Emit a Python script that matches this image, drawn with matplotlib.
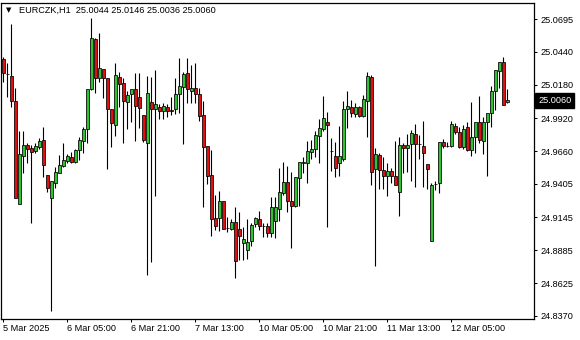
import matplotlib
matplotlib.use("Agg")
import matplotlib.pyplot as plt
from matplotlib.transforms import blended_transform_factory

plt.rcParams['font.family'] = ['Liberation Sans', 'DejaVu Sans']

symbol = "EURCZK,H1"

opens = [25.0384, 25.0262, 25.0250, 25.0055, 24.9247, 24.9624, 24.9710, 24.9686, 24.9663, 24.9694,
         24.9749, 24.9475, 24.9294, 24.9412, 24.9490, 24.9545, 24.9584, 24.9616, 24.9577, 24.9671,
         24.9741, 24.9835, 25.0149, 25.0540, 25.0235, 25.0305, 25.0235, 24.9992, 24.9867, 25.0243,
         25.0196, 25.0047, 25.0109, 25.0149, 25.0086, 24.9945, 24.9726, 25.0047, 24.9992, 25.0008,
         24.9976, 25.0008, 24.9984, 24.9992, 25.0109, 25.0164, 25.0274, 25.0133, 25.0156, 25.0109,
         24.9945, 24.9702, 24.9475, 24.9138, 24.9138, 24.9271, 24.9060, 24.9052, 24.9106, 24.9052,
         24.8942, 24.8887, 24.8958, 24.9091, 24.9130, 24.9075, 24.9075, 24.9020, 24.9114, 24.9208,
         24.9334, 24.9420, 24.9271, 24.9232, 24.9451, 24.9569, 24.9569, 24.9655, 24.9679, 24.9780,
         24.9835, 24.9890, 24.9663, 24.9624, 24.9569, 24.9600, 24.9992, 25.0008, 24.9953, 25.0008,
         24.9937, 25.0055, 25.0243, 24.9522, 24.9632, 24.9514, 24.9467, 24.9506, 24.9467, 24.9341,
         24.9710, 24.9686, 24.9718, 24.9796, 24.9718, 24.9702, 24.9561, 24.8958, 24.9404, 24.9412,
         24.9733, 24.9702, 24.9702, 24.9859, 24.9812, 24.9694, 24.9851, 24.9671, 24.9772, 24.9890,
         24.9741, 24.9890, 24.9961, 25.0133, 25.0290, 25.0360, 25.0044]
highs = [25.0399, 25.0352, 25.0658, 25.0156, 24.9820, 24.9820, 24.9726, 24.9710, 24.9726, 24.9765,
         24.9851, 24.9475, 24.9428, 24.9537, 24.9632, 24.9726, 24.9639, 24.9655, 24.9679, 24.9772,
         24.9851, 25.0149, 25.0705, 25.0548, 25.0587, 25.0305, 25.0235, 24.9992, 25.0352, 25.0282,
         25.0235, 25.0133, 25.0149, 25.0274, 25.0274, 24.9945, 25.0250, 25.0243, 25.0298, 25.0031,
         25.0039, 25.0031, 25.0086, 25.0235, 25.0391, 25.0282, 25.0391, 25.0337, 25.0352, 25.0156,
         25.0055, 24.9702, 24.9671, 24.9318, 24.9349, 24.9271, 24.9146, 24.9130, 24.9224, 24.9185,
         24.9067, 24.9130, 24.9099, 24.9146, 24.9192, 24.9099, 24.9099, 24.9302, 24.9302, 24.9530,
         24.9577, 24.9545, 24.9498, 24.9459, 24.9577, 24.9616, 24.9741, 24.9749, 24.9820, 24.9914,
         25.0094, 24.9968, 24.9765, 24.9733, 24.9859, 25.0055, 25.0133, 25.0062, 25.0039, 25.0015,
         25.0102, 25.0282, 25.0258, 24.9686, 24.9647, 24.9616, 24.9569, 24.9530, 24.9741, 24.9772,
         24.9726, 24.9796, 24.9827, 24.9874, 24.9788, 24.9898, 24.9561, 24.9412, 24.9428, 24.9733,
         24.9757, 24.9733, 24.9898, 24.9882, 24.9851, 24.9867, 24.9890, 25.0047, 24.9890, 25.0094,
         24.9930, 24.9961, 25.0172, 25.0298, 25.0360, 25.0399, 25.0146]
lows = [25.0203, 25.0086, 25.0008, 24.9294, 24.9247, 24.9490, 24.9569, 24.9099, 24.9647, 24.9679,
        24.9459, 24.9341, 24.8409, 24.9373, 24.9490, 24.9537, 24.9569, 24.9569, 24.9569, 24.9592,
        24.9647, 24.9726, 25.0141, 25.0117, 25.0203, 25.0078, 24.9522, 24.9694, 24.9780, 25.0008,
        24.9726, 24.9835, 24.9890, 24.9741, 24.9843, 24.9733, 24.8691, 24.8793, 24.9310, 24.9914,
        24.9914, 24.9930, 24.9945, 24.9953, 24.9961, 24.9718, 25.0039, 25.0039, 25.0039, 24.9898,
        24.9224, 24.9404, 24.8997, 24.9044, 24.9036, 24.9052, 24.9028, 24.9044, 24.8668, 24.8809,
        24.8809, 24.8817, 24.8918, 24.9067, 24.9044, 24.8989, 24.8989, 24.8989, 24.8981, 24.9114,
        24.9318, 24.9185, 24.8903, 24.9224, 24.9232, 24.9490, 24.9412, 24.9600, 24.9616, 24.9569,
        24.9820, 24.9067, 24.9506, 24.9459, 24.9467, 24.9584, 24.9843, 24.9930, 24.9930, 24.9930,
        24.9930, 24.9772, 24.9396, 24.8762, 24.9365, 24.9365, 24.9310, 24.9412, 24.9396, 24.9153,
        24.9490, 24.9498, 24.9428, 24.9381, 24.9600, 24.9381, 24.9365, 24.8958, 24.9357, 24.9334,
        24.9686, 24.9694, 24.9694, 24.9796, 24.9686, 24.9679, 24.9663, 24.9624, 24.9647, 24.9726,
        24.9639, 24.9467, 24.9851, 24.9984, 25.0156, 25.0023, 25.0036]
closes = [25.0274, 25.0262, 25.0055, 24.9294, 24.9639, 24.9710, 24.9679, 24.9655, 24.9702, 24.9741,
          24.9553, 24.9373, 24.9428, 24.9498, 24.9553, 24.9592, 24.9624, 24.9577, 24.9671, 24.9749,
          24.9835, 25.0149, 25.0548, 25.0235, 25.0313, 25.0235, 24.9992, 24.9882, 25.0258, 25.0188,
          25.0055, 25.0102, 25.0149, 25.0015, 25.0000, 24.9749, 25.0117, 24.9992, 25.0031, 24.9976,
          25.0015, 24.9976, 24.9976, 25.0109, 25.0172, 25.0266, 25.0149, 25.0156, 25.0109, 24.9937,
          24.9694, 24.9467, 24.9130, 24.9075, 24.9271, 24.9052, 24.9060, 24.9106, 24.8801, 24.8997,
          24.8973, 24.8950, 24.9083, 24.9138, 24.9075, 24.9075, 24.9020, 24.9224, 24.9224, 24.9341,
          24.9420, 24.9271, 24.9232, 24.9459, 24.9577, 24.9577, 24.9663, 24.9679, 24.9788, 24.9843,
          24.9922, 24.9867, 24.9663, 24.9530, 24.9624, 24.9992, 25.0015, 24.9961, 25.0008, 24.9937,
          25.0070, 25.0250, 24.9498, 24.9639, 24.9514, 24.9467, 24.9506, 24.9467, 24.9396, 24.9710,
          24.9686, 24.9710, 24.9804, 24.9718, 24.9718, 24.9647, 24.9522, 24.9396, 24.9404, 24.9733,
          24.9702, 24.9702, 24.9874, 24.9812, 24.9694, 24.9835, 24.9671, 24.9772, 24.9890, 24.9749,
          24.9890, 24.9961, 25.0133, 25.0298, 25.0360, 25.0023, 25.0060]

price_ticks = [25.0695, 25.0440, 25.0180, 24.9920, 24.9660, 24.9405, 24.9145, 24.8885, 24.8625, 24.8370]
time_tick_bars = [0, 16, 32, 48, 64, 80, 96, 112]
time_tick_labels = ["5 Mar 2025", "6 Mar 05:00", "6 Mar 21:00", "7 Mar 13:00",
                    "10 Mar 05:00", "10 Mar 21:00", "11 Mar 13:00", "12 Mar 05:00"]

BULL = '#2fc42f'
BEAR = '#e01010'

W, H = 580, 340
fig = plt.figure(figsize=(W / 100, H / 100), dpi=100)
fig.patch.set_facecolor('white')
ax = fig.add_axes([1 / W, (H - 319) / H, 533 / W, 316 / H])
ax.set_facecolor('white')

n = len(opens)
xs = list(range(n))
bottoms = [min(o, c) for o, c in zip(opens, closes)]
heights = [abs(c - o) for o, c in zip(opens, closes)]
cols = [BULL if c >= o else BEAR for o, c in zip(opens, closes)]

ax.vlines(xs, lows, highs, color='black', linewidth=0.8, zorder=2)
ax.bar(xs, heights, bottom=bottoms, width=0.62, color=cols, edgecolor='black',
       linewidth=0.55, zorder=3)

ax.set_xlim(-0.575, 132.675)
ax.set_ylim(24.8346, 25.0822)

ax.yaxis.tick_right()
ax.set_yticks(price_ticks)
ax.set_yticklabels([f"{v:.4f}" for v in price_ticks])
ax.set_xticks(time_tick_bars)
ax.set_xticklabels(time_tick_labels, ha='left')
ax.tick_params(axis='y', direction='out', length=2.2, width=0.75, pad=2.5,
               labelsize=6.6, colors='black')
ax.tick_params(axis='x', direction='out', length=2.2, width=0.75, pad=1.5,
               labelsize=6.6, colors='black')
for s in ax.spines.values():
    s.set_linewidth(0.9)
    s.set_color('black')

# header
fig.text(6 / W, 1 - 10 / H, "\u25BC", fontsize=5, family='DejaVu Sans',
         va='center', ha='left', color='black')
last_o, last_h, last_l, last_c = opens[-1], highs[-1], lows[-1], closes[-1]
fig.text(19 / W, 1 - 10 / H,
         f"{symbol}  {last_o:.4f} {last_h:.4f} {last_l:.4f} {last_c:.4f}",
         fontsize=6.6, va='center', ha='left', color='black')

# current price label
tr = blended_transform_factory(ax.transAxes, ax.transData)
ax.text(1.0 + 4 / 533, last_c, f"{last_c:.4f}", transform=tr, fontsize=6.6,
        color='white', va='center', ha='left', clip_on=False,
        bbox=dict(boxstyle='square,pad=0.3', fc='black', ec='black'))

fig.savefig('out.png', dpi=100, facecolor='white')
